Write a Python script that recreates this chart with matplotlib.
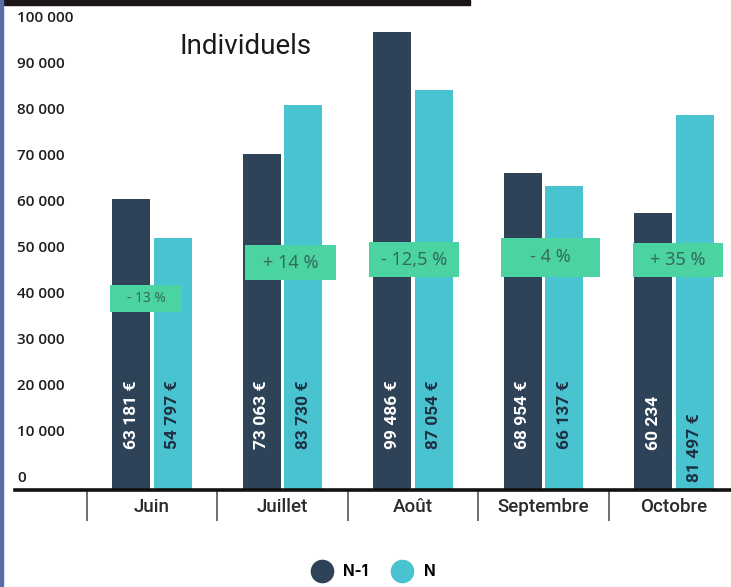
"""Monthly revenue for individual customers, N-1 vs N, with year-on-year change."""

import matplotlib

matplotlib.use("Agg")

import matplotlib.pyplot as plt
import matplotlib.transforms as mtransforms
from matplotlib.lines import Line2D
from matplotlib.patches import Rectangle

MONTHS = ["Juin", "Juillet", "Août", "Septembre", "Octobre"]
PREV_YEAR = [63181, 73063, 99486, 68954, 60234]
CUR_YEAR = [54797, 83730, 87054, 66137, 81497]
PREV_LABELS = ["63 181 €", "73 063 €", "99 486 €", "68 954 €", "60 234"]
CUR_LABELS = ["54 797 €", "83 730 €", "87 054 €", "66 137 €", "81 497 €"]
CHANGES = ["- 13 %", "+ 14 %", "- 12,5 %", "- 4 %", "+ 35 %"]
Y_TICKS = list(range(0, 100001, 10000))

DARK = "#2f4358"
CYAN = "#4ac3d0"
MINT = "#4bd3a1"
MINT_TEXT = "#356a5c"

# badge layout per month: x offset, centre value, width, height, font size
BADGES = [
    (-0.046, 41700, 0.55, 5900, 10),
    (0.061, 49450, 0.70, 7600, 13),
    (0.008, 50100, 0.69, 7600, 13),
    (0.054, 50550, 0.76, 8500, 13),
    (0.030, 50000, 0.69, 7400, 13),
]
# baseline (in value units) of the rotated labels inside the bars
PREV_LABEL_BASE = [8900, 8900, 8900, 8900, 8700]
CUR_LABEL_BASE = [8900, 8900, 8900, 8900, 1800]

W, H = 731, 587
fig = plt.figure(figsize=(W / 100, H / 100), dpi=100)
ax = fig.add_axes([15 / W, (H - 490) / H, (W - 15) / W, 490 / H])

x = list(range(len(MONTHS)))
bar_w = 0.29
ax.bar([i - 0.16 for i in x], PREV_YEAR, width=bar_w, color=DARK, zorder=2)
ax.bar([i + 0.16 for i in x], CUR_YEAR, width=bar_w, color=CYAN, zorder=2)

ax.set_xlim(-1.05, 4.437)
ax.set_ylim(0, 106520)

for i in x:
    ax.text(i - 0.16, PREV_LABEL_BASE[i], PREV_LABELS[i], rotation=90,
            ha="center", va="bottom", color="white", fontsize=12.5,
            family="Roboto", fontweight="bold", zorder=4)
    ax.text(i + 0.16, CUR_LABEL_BASE[i], CUR_LABELS[i], rotation=90,
            ha="center", va="bottom", color="#1d3042", fontsize=12.5,
            family="Roboto", fontweight="bold", zorder=4)

    dx, cy, bw, bh, fs = BADGES[i]
    ax.add_patch(Rectangle((i + dx - bw / 2, cy - bh / 2), bw, bh,
                           facecolor=MINT, edgecolor="none", zorder=5))
    ax.text(i + dx, cy, CHANGES[i], ha="center", va="center",
            color=MINT_TEXT, fontsize=fs, family="Noto Sans", zorder=6)

# y labels sit just above their value, left aligned
label_tr = mtransforms.offset_copy(
    mtransforms.blended_transform_factory(ax.transAxes, ax.transData),
    fig=fig, x=0, y=5, units="dots")
for v in Y_TICKS:
    ax.text(2 / (W - 15), v, f"{v:,}".replace(",", " "), transform=label_tr,
            ha="left", va="bottom", fontsize=11, color="#1e1e1e",
            family="Open Sans", fontweight="semibold")

ax.set_yticks([])
ax.set_xticks(x)
ax.set_xticklabels(MONTHS, family="Roboto", fontweight="medium",
                   fontsize=13.5, color="#2a2a2a")
ax.set_xticks([i - 0.5 for i in x], minor=True)
ax.tick_params(axis="x", which="major", length=0, pad=6)
ax.tick_params(axis="x", which="minor", length=22, width=1.2,
               color="#555555", direction="out")

for side in ("top", "right", "left"):
    ax.spines[side].set_visible(False)
ax.spines["bottom"].set_linewidth(2.6)
ax.spines["bottom"].set_color("#111111")

fig.text(180 / W, 1 - 47 / H, "Individuels", ha="left", va="center",
         fontsize=20, family="Roboto", color="#1a1a1a")

handles = [
    Line2D([], [], marker="o", ls="", ms=16, color=DARK, label="N-1"),
    Line2D([], [], marker="o", ls="", ms=16, color=CYAN, label="N"),
]
fig.legend(handles=handles, loc="center", ncol=2, frameon=False,
           bbox_to_anchor=(371 / W, 1 - 572 / H), handletextpad=0.4,
           columnspacing=1.2, prop={"family": "Inter", "weight": "bold",
                                    "size": 11})

# strips along the top and left edges of the page
fig.add_artist(Rectangle((0, 1 - 5 / H), 470 / W, 5 / H,
                         transform=fig.transFigure, color="#1b1515"))
fig.add_artist(Rectangle((0, 0), 3 / W, 1, transform=fig.transFigure,
                         color="#5a6ea6"))

fig.savefig("out.png", dpi=100, facecolor="white")
